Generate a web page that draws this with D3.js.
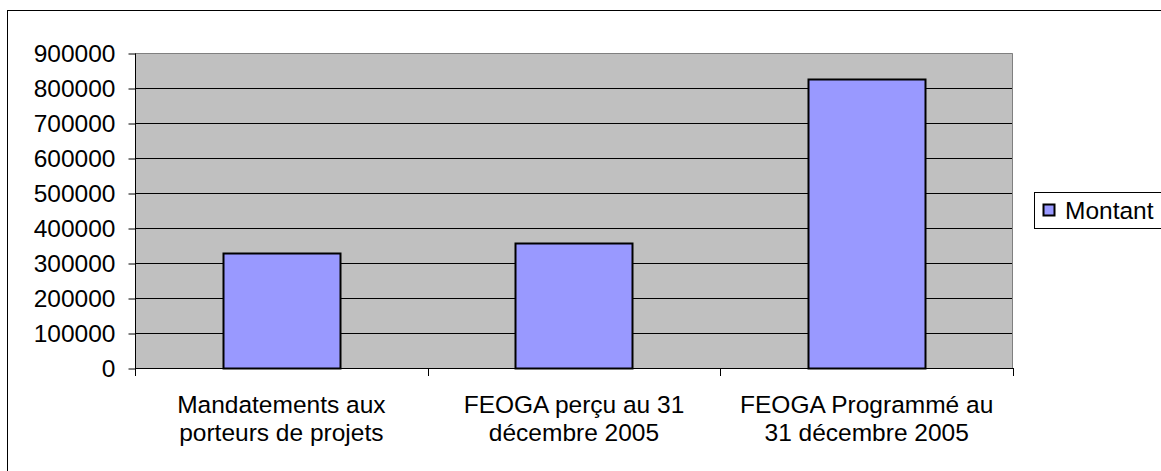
<!DOCTYPE html>
<html>
<head>
<meta charset="utf-8">
<script src="https://cdn.jsdelivr.net/npm/d3@7"></script>
<style>
  body { margin: 0; background: #fff; }
  svg { display: block; font-family: "Liberation Sans", Arial, sans-serif; }
</style>
</head>
<body>
<div id="chart"></div>
<script>
// Data
var categories = [
    ["Mandatements aux", "porteurs de projets"],
    ["FEOGA perçu au 31", "décembre 2005"],
    ["FEOGA Programmé au", "31 décembre 2005"]
];
var montant = [328000, 356000, 826000];
var seriesName = "Montant";
var yTicks = [0, 100000, 200000, 300000, 400000, 500000, 600000, 700000, 800000, 900000];

var width = 1161, height = 471;
var plot = {left: 135, top: 53, right: 1013, bottom: 368};
var fontSize = 24.5;

var svg = d3.select("#chart").append("svg")
    .attr("width", width)
    .attr("height", height);

// outer chart frame (runs off the picture at right and bottom)
svg.append("rect")
    .attr("x", 7.5).attr("y", 10.5)
    .attr("width", 1200).attr("height", 500)
    .attr("fill", "#fff").attr("stroke", "#000");

var x = d3.scaleBand()
    .domain(d3.range(categories.length))
    .range([plot.left, plot.right])
    .paddingInner(0.6).paddingOuter(0.3);

var y = d3.scaleLinear()
    .domain([0, 900000])
    .range([plot.bottom, plot.top]);

// plot background
svg.append("rect")
    .attr("x", plot.left).attr("y", plot.top)
    .attr("width", plot.right - plot.left)
    .attr("height", plot.bottom - plot.top)
    .attr("fill", "#c0c0c0");

// grid lines
svg.append("g").selectAll("line")
    .data(yTicks.slice(1, -1))
    .enter().append("line")
    .attr("x1", plot.left).attr("x2", plot.right)
    .attr("y1", function (d) { return Math.round(y(d)) + 0.5; })
    .attr("y2", function (d) { return Math.round(y(d)) + 0.5; })
    .attr("stroke", "#000");

// grey top and right edges of the plot area
svg.append("path")
    .attr("d", "M" + plot.left + "," + (plot.top + 0.5) + "H" + (plot.right - 0.5) + "V" + plot.bottom)
    .attr("fill", "none")
    .attr("stroke", "#808080");

// bars
svg.append("g").selectAll("rect")
    .data(montant)
    .enter().append("rect")
    .attr("x", function (d, i) { return Math.round(x(i)) + 0.5; })
    .attr("y", function (d) { return Math.round(y(d)) + 0.5; })
    .attr("width", Math.round(x.bandwidth()))
    .attr("height", function (d) { return Math.round(y(0)) - Math.round(y(d)); })
    .attr("fill", "#9999ff")
    .attr("stroke", "#000")
    .attr("stroke-width", 2);

// y axis
var yAxis = svg.append("g")
    .attr("transform", "translate(" + (plot.left + 0.5) + ",0.5)")
    .call(d3.axisLeft(y).tickValues(yTicks).tickSize(7).tickPadding(13).tickFormat(d3.format("d")));
yAxis.selectAll("text").attr("font-size", fontSize).attr("fill", "#000").attr("font-family", null);
yAxis.selectAll("line, path").attr("stroke", "#000");
yAxis.select(".domain").attr("d", "M0," + plot.top + "V" + plot.bottom);

// x axis: line and ticks at category boundaries
var boundaries = d3.range(categories.length + 1).map(function (i) {
    return plot.left + i * (plot.right - plot.left) / categories.length;
});
svg.append("line")
    .attr("x1", plot.left).attr("x2", plot.right)
    .attr("y1", plot.bottom + 0.5).attr("y2", plot.bottom + 0.5)
    .attr("stroke", "#000");
svg.append("g").selectAll("line")
    .data(boundaries)
    .enter().append("line")
    .attr("x1", function (d) { return Math.round(d) + 0.5; })
    .attr("x2", function (d) { return Math.round(d) + 0.5; })
    .attr("y1", plot.bottom).attr("y2", plot.bottom + 8)
    .attr("stroke", "#000");

// category labels
var labels = svg.append("g").selectAll("text")
    .data(categories)
    .enter().append("text")
    .attr("text-anchor", "middle")
    .attr("font-size", fontSize)
    .attr("x", function (d, i) { return x(i) + x.bandwidth() / 2; });
labels.selectAll("tspan")
    .data(function (d) { return d; })
    .enter().append("tspan")
    .attr("x", function () { return d3.select(this.parentNode).attr("x"); })
    .attr("y", function (d, j) { return 413 + j * 28; })
    .text(function (d) { return d; });

// legend
var legend = svg.append("g");
legend.append("rect")
    .attr("x", 1034.5).attr("y", 192.5)
    .attr("width", 200).attr("height", 36)
    .attr("fill", "#fff").attr("stroke", "#000");
legend.append("rect")
    .attr("x", 1043.5).attr("y", 204.5)
    .attr("width", 11).attr("height", 11)
    .attr("fill", "#9999ff").attr("stroke", "#000").attr("stroke-width", 2);
legend.append("text")
    .attr("x", 1065).attr("y", 219)
    .attr("font-size", fontSize)
    .text(seriesName);
</script>
</body>
</html>
